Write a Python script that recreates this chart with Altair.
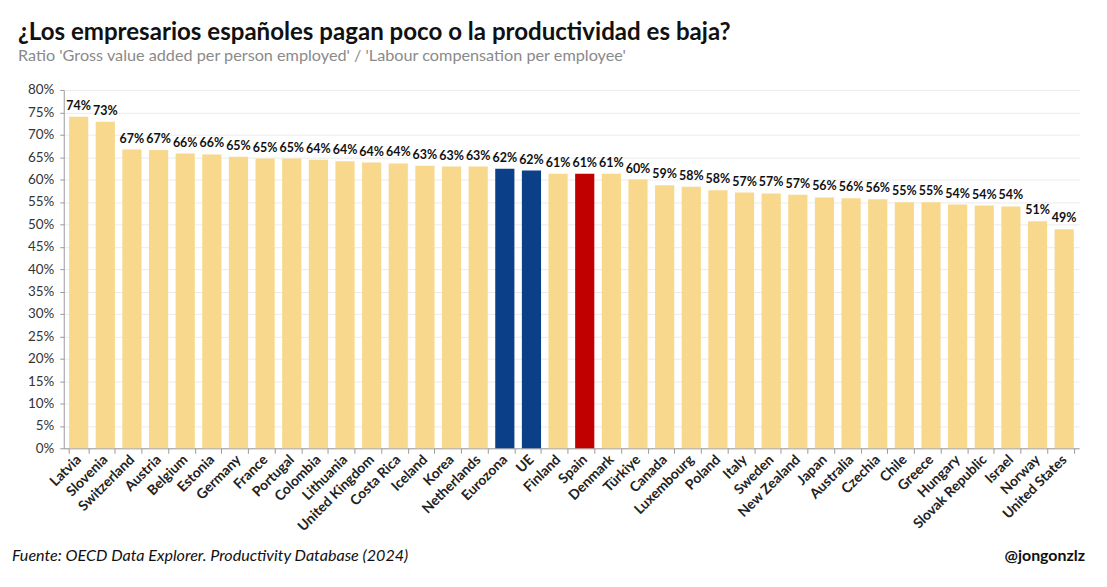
import altair as alt
import pandas as pd

countries = ["Latvia", "Slovenia", "Switzerland", "Austria", "Belgium", "Estonia", "Germany",
             "France", "Portugal", "Colombia", "Lithuania", "United Kingdom", "Costa Rica",
             "Iceland", "Korea", "Netherlands", "Eurozona", "UE", "Finland", "Spain", "Denmark",
             "Türkiye", "Canada", "Luxembourg", "Poland", "Italy", "Sweden", "New Zealand",
             "Japan", "Australia", "Czechia", "Chile", "Greece", "Hungary", "Slovak Republic",
             "Israel", "Norway", "United States"]
values = [74.0, 72.9, 66.7, 66.6, 65.8, 65.6, 65.1, 64.7, 64.7, 64.4, 64.1, 63.8, 63.6,
          63.1, 62.9, 62.9, 62.4, 62.0, 61.3, 61.3, 61.3, 60.0, 58.7, 58.4, 57.6, 57.1,
          56.9, 56.6, 56.0, 55.8, 55.6, 54.9, 54.9, 54.4, 54.2, 54.0, 50.7, 48.9]
groups = ["Country"] * 16 + ["Aggregate", "Aggregate", "Country", "Spain"] + ["Country"] * 18

y_ticks = [i / 100 for i in range(0, 81, 5)]

title_text = "¿Los empresarios españoles pagan poco o la productividad es baja?"
subtitle_text = "Ratio 'Gross value added per person employed' / 'Labour compensation per employee'"
source_text = "Fuente: OECD Data Explorer. Productivity Database (2024)"
author_text = "@jongonzlz"

df = pd.DataFrame({"country": countries,
                   "value": [v / 100 for v in values],
                   "group": groups})

FONT = "Lato"

x_enc = alt.X("country:N", sort=countries, title=None,
              scale=alt.Scale(paddingInner=0.28, paddingOuter=0.2),
              axis=alt.Axis(labelAngle=-45, labelAlign="right", labelBaseline="middle",
                            labelFont=FONT, labelFontSize=14, labelFontWeight="bold",
                            labelColor="#222222", labelPadding=4, tickBand="extent",
                            tickSize=5, tickColor="#999999", domainColor="#999999",
                            labelOverlap=False, grid=False))
y_enc = alt.Y("value:Q", title=None,
              scale=alt.Scale(domain=[0, 0.8], nice=False),
              axis=alt.Axis(values=y_ticks, format=".0%", labelFont=FONT, labelFontSize=13.5,
                            labelColor="#333333", labelPadding=6, tickSize=4,
                            labelOverlap=False,
                            tickColor="#999999", domainColor="#999999",
                            gridColor="#ebebeb", gridWidth=1))

base = alt.Chart(df)

bars = base.mark_bar().encode(
    x=x_enc, y=y_enc,
    color=alt.Color("group:N",
                    scale=alt.Scale(domain=["Country", "Aggregate", "Spain"],
                                    range=["#F8D88C", "#0B3F87", "#C00000"]),
                    legend=None),
)

labels = base.mark_text(font=FONT, fontSize=12.5, fontWeight="bold", color="#111111",
                        baseline="alphabetic", dy=-7).encode(
    x=x_enc,
    y=y_enc,
    text=alt.Text("value:Q", format=".0%"),
)

source = alt.Chart(pd.DataFrame({"t": [source_text]})).mark_text(
    font=FONT, fontSize=16.2, fontStyle="italic", color="#111111",
    align="left", baseline="alphabetic").encode(
    text="t:N", x=alt.value(-52), y=alt.value(473))

author = alt.Chart(pd.DataFrame({"t": [author_text]})).mark_text(
    font=FONT, fontSize=16, fontWeight="bold", color="#111111",
    align="right", baseline="alphabetic").encode(
    text="t:N", x=alt.value(1026), y=alt.value(473))

chart = alt.layer(bars, labels, source, author).properties(
    width=1020, height=360,
    autosize=alt.AutoSizeParams(type="none"),
    padding={"left": 56, "top": 81, "right": 20, "bottom": 130},
    title=alt.TitleParams(text=title_text, subtitle=subtitle_text, anchor="start",
                          frame="group", font=FONT, fontSize=24.2, fontWeight="bold",
                          color="#111111", subtitleFont=FONT, subtitleFontSize=16.3,
                          subtitleColor="#8a8a8a", subtitlePadding=3, offset=19, dx=-46),
).configure(background="white").configure_view(stroke=None)

chart.save("out.html", embed_options={"renderer": "svg", "actions": False})
